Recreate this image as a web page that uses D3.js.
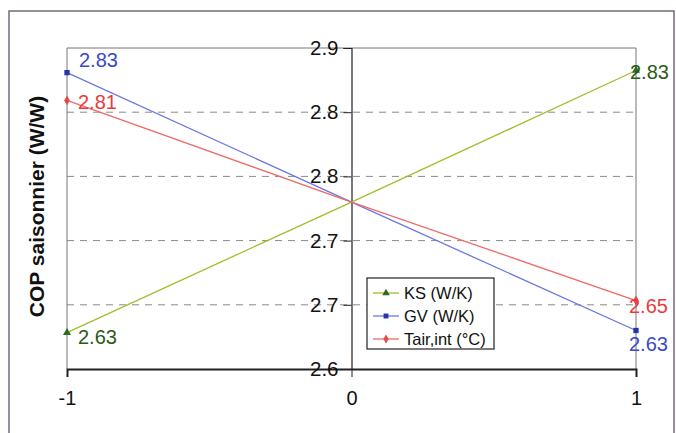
<!DOCTYPE html>
<html><head><meta charset="utf-8">
<script src="https://cdn.jsdelivr.net/npm/d3@7"></script>
<style>body{margin:0;background:#fff}svg{display:block}text{font-family:"Liberation Sans",Arial,sans-serif}</style>
</head><body>
<svg id="c" width="676" height="433"></svg>
<script>
const xValues = [-1, 0, 1];
const seriesNames = ["KS (W/K)", "GV (W/K)", "Tair,int (°C)"];
const ksValues = [2.634, 2.756, 2.879];
const gvValues = [2.877, 2.756, 2.636];
const tairValues = [2.851, 2.756, 2.664];
const yTicks = [2.60, 2.66, 2.72, 2.78, 2.84, 2.90];
const xTicks = [-1, 0, 1];
const leftLabels = ["2.63", "2.83", "2.81"];
const rightLabels = ["2.83", "2.63", "2.65"];

const svg = d3.select("#c");
const W = 676, H = 433;
const m = {l: 67, r: 636, t: 48, b: 369};
const x = d3.scaleLinear().domain([-1, 1]).range([m.l, m.r]);
const y = d3.scaleLinear().domain([2.6, 2.9]).range([m.b, m.t]);

// outer frame
svg.append("path").attr("d", `M9,${H+2}V11H674V${H+2}`).attr("fill", "none").attr("stroke", "#75687a").attr("stroke-width", 1.5);

// gridlines
svg.append("g").selectAll("line").data(yTicks.slice(1, -1)).join("line")
  .attr("x1", m.l).attr("x2", m.r).attr("y1", d => y(d)).attr("y2", d => y(d))
  .attr("stroke", "#8a8a8a").attr("stroke-dasharray", "7,6").attr("stroke-width", 1);
// plot borders
svg.append("path").attr("d", `M${m.l},${m.b}V${m.t}H${m.r}V${m.b}`).attr("fill", "none").attr("stroke", "#777").attr("stroke-width", 1);

// x axis
const xAxis = d3.axisBottom(x).tickValues(xTicks).tickFormat(d3.format("d")).tickSize(8).tickPadding(14);
const gx = svg.append("g").attr("transform", `translate(0,${m.b})`).call(xAxis);
gx.select(".domain").attr("stroke", "#222").attr("stroke-width", 2);
gx.selectAll(".tick line").attr("stroke", "#222");
gx.selectAll("text").attr("font-size", 20).attr("fill", "#111").text(d => d < 0 ? "-" + Math.abs(d) : d);

// y axis at x=0
const yAxis = d3.axisLeft(y).tickValues(yTicks).tickFormat(d3.format(".1f")).tickSize(8).tickPadding(5);
const gy = svg.append("g").attr("transform", `translate(${x(0)},0)`).call(yAxis);
gy.select(".domain").attr("stroke", "#222").attr("stroke-width", 1.2);
gy.selectAll(".tick line").attr("stroke", "#222");
gy.selectAll("text").attr("font-size", 20.5).attr("fill", "#111");

// y title
svg.append("text").attr("transform", `translate(44,${(m.t + m.b) / 2 - 2}) rotate(-90)`)
  .attr("text-anchor", "middle").attr("font-size", 21).attr("font-weight", "bold").attr("fill", "#111")
  .text("COP saisonnier (W/W)");

const series = [
  {name: seriesNames[0], vals: ksValues, line: "#9fbf2a", mark: "#2e6b1e", shape: d3.symbolTriangle, lab: "#2a5a18"},
  {name: seriesNames[1], vals: gvValues, line: "#6a78e0", mark: "#2535a8", shape: d3.symbolSquare, lab: "#3a48c8"},
  {name: seriesNames[2], vals: tairValues, line: "#ef6a6a", mark: "#e84848", shape: d3.symbolDiamond, lab: "#ea3a3a"}
];
const line = d3.line().x((d, i) => x(xValues[i])).y(d => y(d));
series.forEach(s => {
  svg.append("path").datum(s.vals).attr("d", line).attr("fill", "none").attr("stroke", s.line).attr("stroke-width", 1.3);
  svg.append("g").selectAll("path").data(s.vals.filter((d, i) => i !== 1)).join("path")
    .attr("transform", (d, i) => `translate(${x(i === 0 ? -1 : 1)},${y(d)})`)
    .attr("d", d3.symbol().type(s.shape).size(28)).attr("fill", s.mark);
});

// value labels
const lab = (px, py, t, c, anchor) => svg.append("text").attr("x", px).attr("y", py).attr("text-anchor", anchor || "start")
  .attr("font-size", 20).attr("fill", c).text(t);
lab(x(-1) + 11, y(ksValues[0]) + 11, leftLabels[0], series[0].lab);
lab(x(-1) + 12, y(gvValues[0]) - 6, leftLabels[1], series[1].lab);
lab(x(-1) + 11, y(tairValues[0]) + 9, leftLabels[2], series[2].lab);
lab(x(1) - 6, y(ksValues[2]) + 9, rightLabels[0], series[0].lab);
lab(x(1) - 7, y(gvValues[2]) + 21, rightLabels[1], series[1].lab);
lab(x(1) - 7, y(tairValues[2]) + 12, rightLabels[2], series[2].lab);

// legend
const lg = svg.append("g").attr("transform", "translate(367,278)");
lg.append("rect").attr("width", 127).attr("height", 71).attr("fill", "#fff").attr("stroke", "#222").attr("stroke-width", 1.2);
series.forEach((s, i) => {
  const yy = 15 + i * 23;
  lg.append("line").attr("x1", 6).attr("x2", 32).attr("y1", yy).attr("y2", yy).attr("stroke", s.line).attr("stroke-width", 1.3);
  lg.append("path").attr("transform", `translate(19,${yy})`).attr("d", d3.symbol().type(s.shape).size(24)).attr("fill", s.mark);
  lg.append("text").attr("x", 37).attr("y", yy + 6).attr("font-size", 16.5).attr("fill", "#111").text(s.name);
});
</script>
</body></html>
